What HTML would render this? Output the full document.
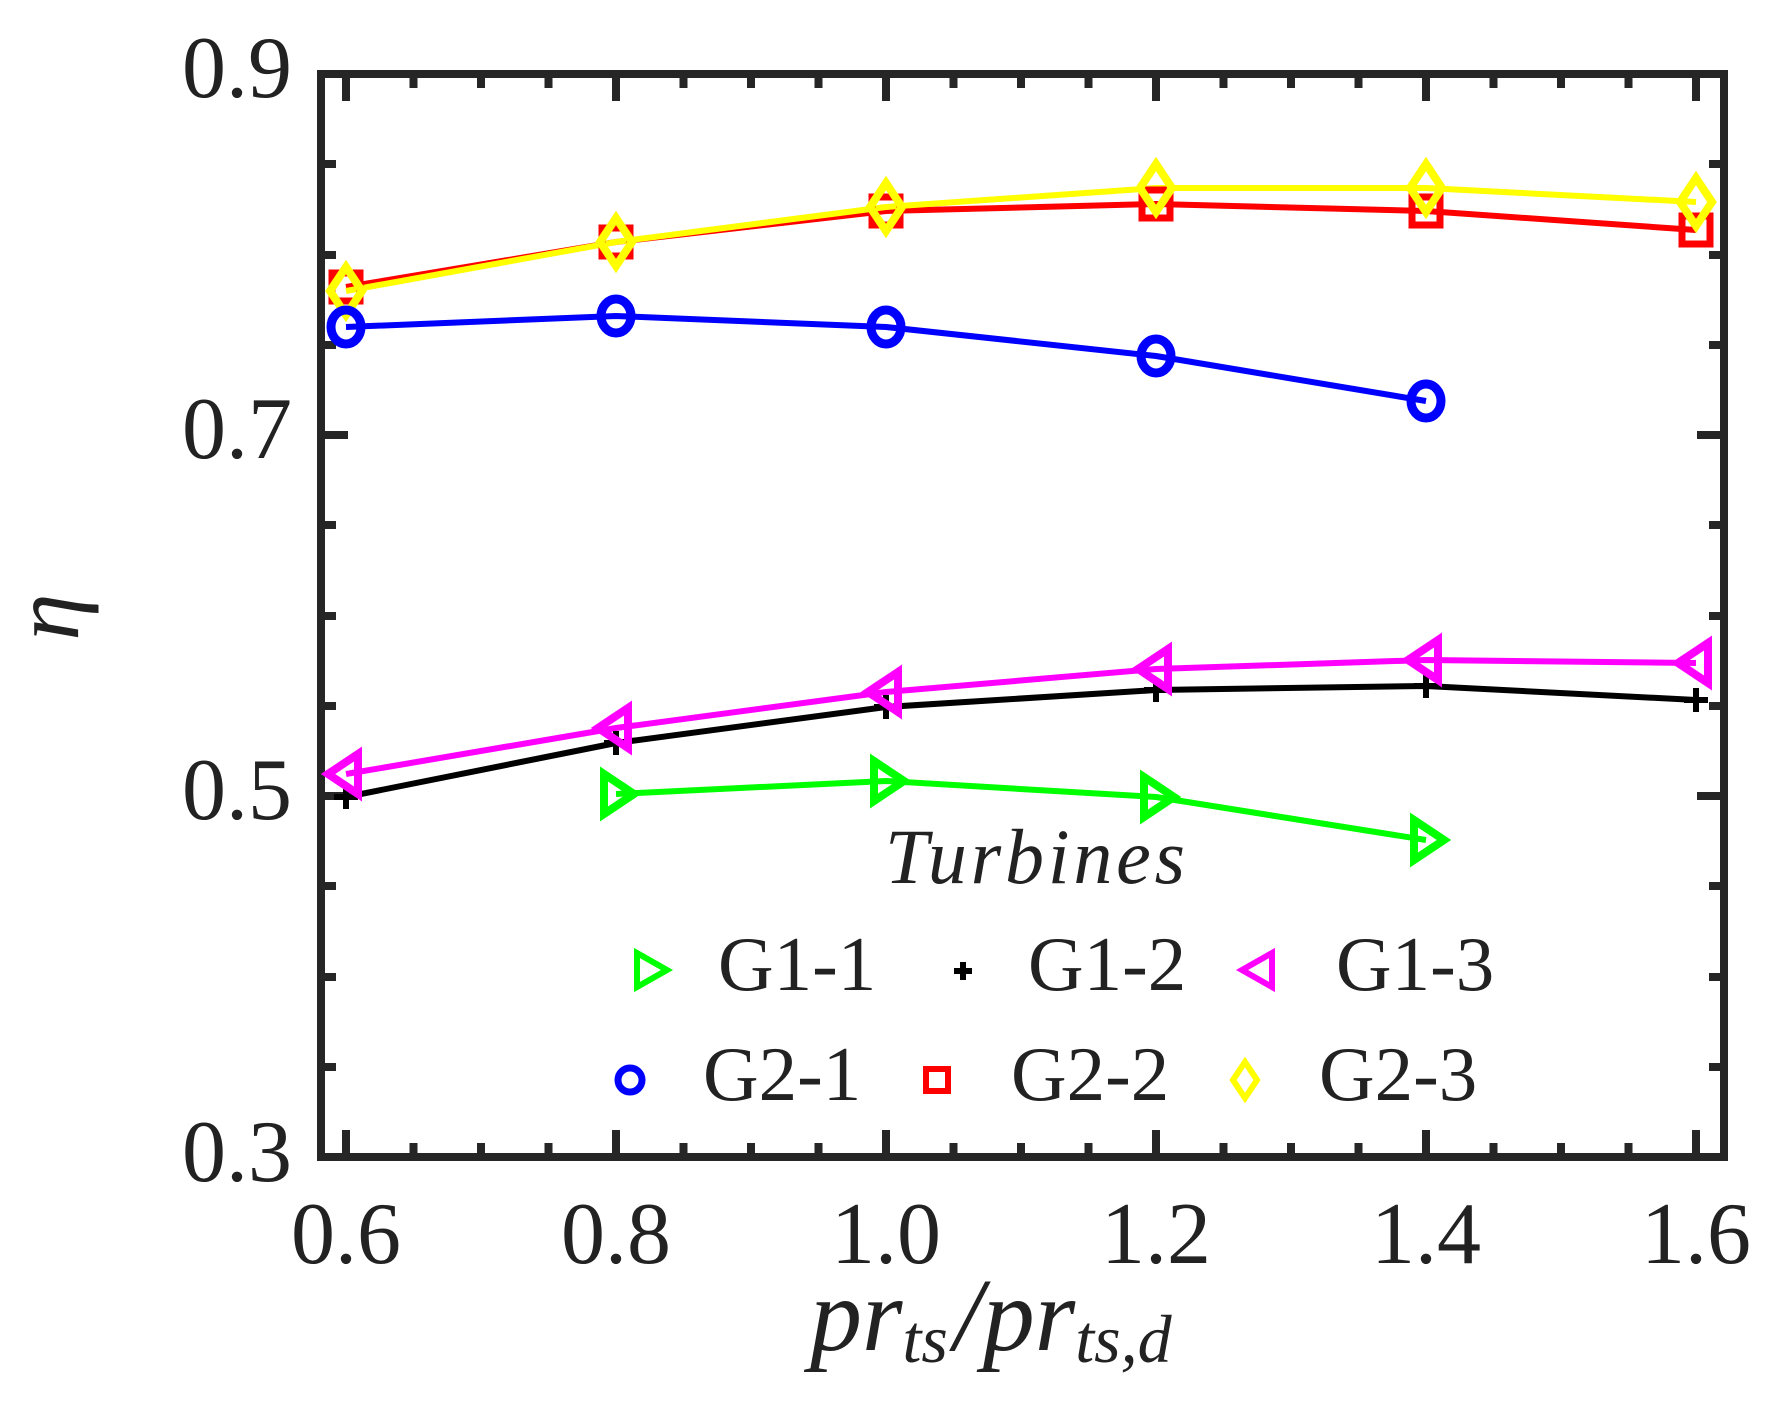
<!DOCTYPE html>
<html><head><meta charset="utf-8"><style>html,body{margin:0;padding:0;background:#fff}svg{display:block}</style></head>
<body>
<svg width="1792" height="1412" viewBox="0 0 1792 1412" xmlns="http://www.w3.org/2000/svg" font-family="'Liberation Serif', serif">
<rect width="1792" height="1412" fill="#fff"/>
<g stroke="#262626" stroke-width="8" fill="none">
<rect x="321" y="74" width="1403" height="1083"/>
<path d="M346 1157v-27M616 1157v-27M886 1157v-27M1156 1157v-27M1426 1157v-27M1696 1157v-27
M346 74v27M616 74v27M886 74v27M1156 74v27M1426 74v27M1696 74v27
M413.5 1157v-14M481 1157v-14M548.5 1157v-14M683.5 1157v-14M751 1157v-14M818.5 1157v-14M953.5 1157v-14M1021 1157v-14M1088.5 1157v-14M1223.5 1157v-14M1291 1157v-14M1358.5 1157v-14M1493.5 1157v-14M1561 1157v-14M1628.5 1157v-14
M413.5 74v14M481 74v14M548.5 74v14M683.5 74v14M751 74v14M818.5 74v14M953.5 74v14M1021 74v14M1088.5 74v14M1223.5 74v14M1291 74v14M1358.5 74v14M1493.5 74v14M1561 74v14M1628.5 74v14
M321 435h27M321 796h27M1724 435h-27M1724 796h-27
M321 164h15M321 255h15M321 345h15M321 525h15M321 616h15M321 706h15M321 886h15M321 977h15M321 1067h15
M1724 164h-15M1724 255h-15M1724 345h-15M1724 525h-15M1724 616h-15M1724 706h-15M1724 886h-15M1724 977h-15M1724 1067h-15"/>
</g>
<g font-size="88" fill="#222" text-anchor="middle">
<text x="346" y="1263">0.6</text><text x="616" y="1263">0.8</text><text x="886" y="1263">1.0</text>
<text x="1156" y="1263">1.2</text><text x="1426" y="1263">1.4</text><text x="1696" y="1263">1.6</text>
</g>
<g font-size="88" fill="#222" text-anchor="end">
<text x="292" y="97">0.9</text><text x="292" y="458">0.7</text><text x="292" y="819">0.5</text><text x="292" y="1181">0.3</text>
</g>
<text x="78" y="617" font-size="95" font-style="italic" fill="#222" text-anchor="middle" transform="rotate(-90 78 617)">η</text>
<text x="810" y="1350" font-size="104" font-style="italic" fill="#222">pr<tspan font-size="68" dy="12">ts</tspan><tspan font-size="104" dy="-12" dx="6">/pr</tspan><tspan font-size="68" dy="12">ts,d</tspan></text>

<g fill="none" stroke-width="6" stroke-linejoin="round">
<polyline stroke="#ff0000" points="346,287 616,242 886,211 1156,204 1426,211 1696,230"/>
<polyline stroke="#ffff00" points="346,291 616,242 886,207 1156,188 1426,188 1696,202"/>
<polyline stroke="#0000ff" points="346,327 616,316 886,327 1156,356 1426,401"/>
<polyline stroke="#000000" points="346,797 616,743 886,707 1156,690 1426,686 1696,700"/>
<polyline stroke="#ff00ff" points="346,774 616,728 886,692 1156,669 1426,660 1696,663"/>
<polyline stroke="#00ff00" points="616,794 886,781 1156,797 1426,840"/>
</g>
<g fill="none" stroke-width="7">
<g stroke="#ff0000"><rect x="332" y="273" width="28" height="28"/><rect x="602" y="228" width="28" height="28"/><rect x="872" y="197" width="28" height="28"/><rect x="1142" y="190" width="28" height="28"/><rect x="1412" y="197" width="28" height="28"/><rect x="1682" y="216" width="28" height="28"/></g>
<g stroke="#ffff00" stroke-width="8"><path d="M346 267l16 24-16 24-16-24z M616 218l16 24-16 24-16-24z M886 183l16 24-16 24-16-24z M1156 164l16 24-16 24-16-24z M1426 164l16 24-16 24-16-24z M1696 178l16 24-16 24-16-24z"/></g>
<g stroke="#0000ff" stroke-width="9"><ellipse cx="346" cy="327" rx="15" ry="17"/><ellipse cx="616" cy="316" rx="15" ry="17"/><ellipse cx="886" cy="327" rx="15" ry="17"/><ellipse cx="1156" cy="356" rx="15" ry="17"/><ellipse cx="1426" cy="401" rx="15" ry="17"/></g>
<g stroke="#000" stroke-width="6"><path d="M346 785v24M334 797h24M616 731v24M604 743h24M886 695v24M874 707h24M1156 678v24M1144 690h24M1426 674v24M1414 686h24M1696 688v24M1684 700h24"/></g>
<g stroke="#ff00ff" stroke-width="8"><path d="M328 774l30-20v40z M598 728l30-20v40z M868 692l30-20v40z M1138 669l30-20v40z M1408 660l30-20v40z M1678 663l30-20v40z"/></g>
<g stroke="#00ff00" stroke-width="8"><path d="M634 794l-30-20v40z M904 781l-30-20v40z M1174 797l-30-20v40z M1444 840l-30-20v40z"/></g>
</g>
<text x="1035" y="883" font-size="78" font-style="italic" fill="#222" text-anchor="middle" textLength="300">Turbines</text>
<g font-size="77" fill="#222">
<text x="718" y="990">G1-1</text><text x="1028" y="990">G1-2</text><text x="1336" y="990">G1-3</text>
<text x="703" y="1100">G2-1</text><text x="1011" y="1100">G2-2</text><text x="1319" y="1100">G2-3</text>
</g>
<g fill="none" stroke-width="6">
<path d="M637 953l30 17-30 17z" stroke="#00ff00"/>
<path d="M963 962v18M954 971h18" stroke="#000" stroke-width="6"/>
<path d="M1272 953l-30 17 30 17z" stroke="#ff00ff"/>
<circle cx="630" cy="1080" r="12" stroke="#0000ff" stroke-width="7"/>
<rect x="926" y="1069" width="22" height="22" stroke="#ff0000"/>
<path d="M1245 1062l12 18-12 18-12-18z" stroke="#ffff00"/>
</g>
</svg>
</body></html>
